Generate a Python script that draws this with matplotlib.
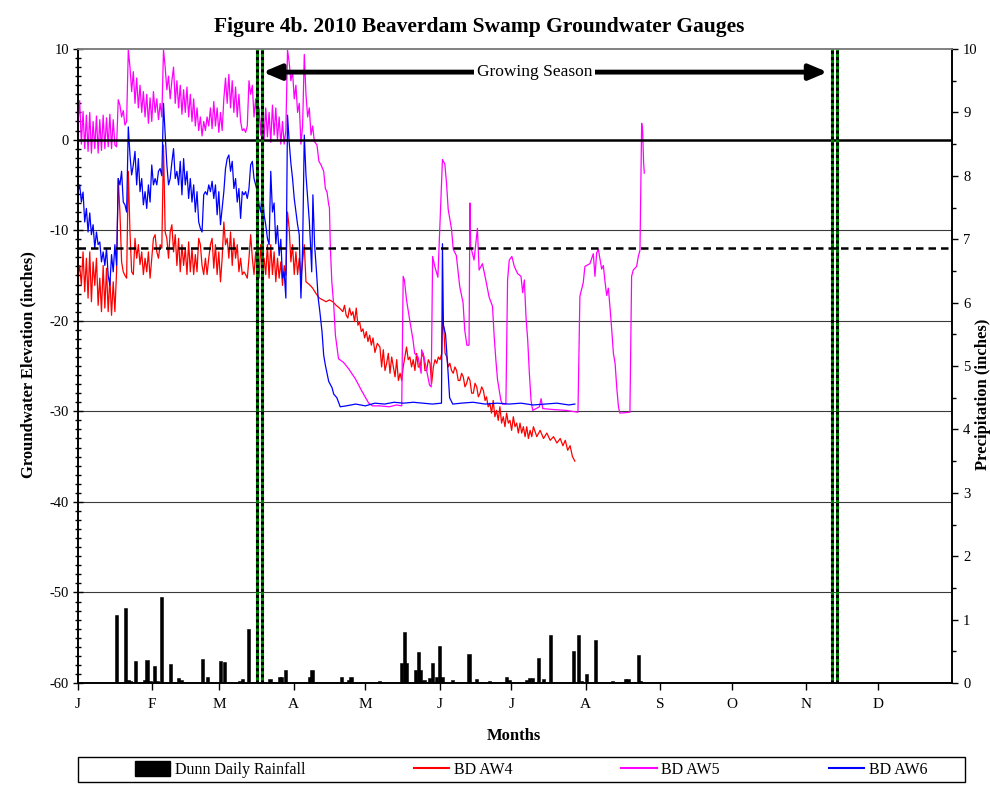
import numpy as np
import matplotlib
matplotlib.use('Agg')
import matplotlib.pyplot as plt
from matplotlib.ticker import MultipleLocator
from matplotlib.patches import Patch, Rectangle
from matplotlib.lines import Line2D

plt.rcParams['font.family'] = ['Liberation Serif', 'DejaVu Serif']
plt.rcParams['axes.unicode_minus'] = False

# ---- data (day of year 2010, inches) ----
month_starts = [0, 31, 59, 90, 120, 151, 181, 212, 243, 273, 304, 334]
month_labels = ['J', 'F', 'M', 'A', 'M', 'J', 'J', 'A', 'S', 'O', 'N', 'D']

# noisy winter/spring readings, sampled every 0.7 day from Jan 1
early_days = np.round(np.arange(0, 95, 0.7), 1)

aw4_early = [-15.0, -13.9, -16.1, -12.4, -16.8, -13.1, -17.5, -12.4, -17.9, -13.5,
             -16.1, -13.1, -18.3, -15.3, -19.0, -13.9, -18.6, -14.2, -19.0, -15.3,
             -19.4, -15.7, -19.0, -14.6, -4.3, -8.0, -13.5, -14.6, -15.0, -15.3,
             -3.5, -10.2, -14.6, -14.9, -10.9, -13.1, -11.6, -13.8, -12.4, -14.9,
             -13.1, -14.6, -12.4, -15.3, -13.1, -10.9, -10.5, -12.4, -13.1, -11.6,
             -12.0, -0.6, -10.2, -10.9, -13.1, -10.2, -9.4, -12.4, -10.5, -13.9,
             -10.9, -14.6, -11.6, -13.9, -12.0, -14.9, -11.3, -14.6, -12.0, -14.9,
             -12.7, -14.6, -10.9, -11.6, -13.9, -14.9, -13.1, -14.9, -13.1, -11.6,
             -10.9, -14.2, -11.6, -14.9, -12.4, -15.7, -13.1, -9.1, -11.6, -10.9,
             -13.1, -10.2, -13.9, -10.9, -13.1, -11.6, -14.6, -13.1, -14.9, -14.6,
             -14.9, -15.3, -13.1, -10.5, -13.1, -14.9, -12.4, -14.9, -15.3, -11.6,
             -14.6, -13.1, -14.9, -11.6, -15.3, -11.6, -14.9, -12.4, -15.7, -13.1,
             -15.3, -13.5, -16.1, -13.9, -15.0, -8.0, -9.8, -13.5, -11.6, -14.9,
             -12.4, -14.9, -13.1, -15.3, -13.5, -11.6]

aw5_early = [1.9, 4.3, -0.5, 3.1, -1.0, 2.7, -1.3, 3.0, -1.5, 2.0,
             -1.0, 2.6, -1.5, 2.2, -1.2, 2.7, -1.0, 2.4, -0.8, 2.8,
             -1.0, 2.2, -0.6, -0.8, 4.4, 3.8, 2.5, 3.2, 1.6, 2.0,
             9.9, 8.0, 5.3, 7.5, 4.0, 6.8, 3.5, 6.0, 3.0, 5.3,
             2.5, 5.0, 1.8, 4.6, 2.0, 5.3, 3.0, 4.5, 2.2, 4.0,
             2.5, 9.9, 8.0, 5.5, 7.0, 4.5, 6.5, 8.0, 4.0, 6.5,
             3.5, 6.0, 2.8, 5.5, 3.0, 5.8, 2.5, 5.0, 2.0, 4.5,
             1.5, 3.5, 1.0, 2.5, 0.4, 2.0, 1.0, 2.5, 1.5, 3.5,
             1.2, 4.2, 1.5, 3.5, 0.8, 3.0, 1.0, 4.5, 6.8, 4.0,
             7.2, 3.5, 6.5, 3.0, 5.8, 2.5, 5.0, 2.0, 1.0, 1.2,
             0.8, 1.5, 6.5, 5.0, 6.0, 2.5, 4.5, 1.5, 3.5, 0.5,
             4.0, 0.0, 3.5, 0.3, 3.0, -0.3, 3.8, 0.5, 3.5, 0.0,
             2.5, -0.5, 2.0, -0.5, 1.0, 9.9, 8.5, 6.5, 7.5, 4.5,
             6.0, 3.0, 4.0, -0.5, 1.5, 9.4]

aw6_early = [-5.75, -5.0, -6.9, -5.8, -9.1, -7.6, -10.2, -8.1, -10.5, -9.4,
             -12.0, -10.2, -11.6, -11.3, -13.5, -12.4, -13.9, -12.0, -15.0, -16.1,
             -12.7, -14.6, -11.6, -13.9, -4.3, -5.0, -3.5, -6.9, -7.2, -8.0,
             1.4, -1.7, -3.9, -2.8, -1.3, -5.0, -2.1, -5.75, -4.3, -7.2,
             -5.75, -7.6, -5.0, -6.9, -2.8, -5.0, -4.3, -5.0, -3.5, -3.2,
             -4.0, 4.0, 0.5, -2.8, -5.0, -4.3, -2.5, -1.0, -4.3, -3.5,
             -5.0, -2.4, -6.1, -2.1, -5.0, -3.5, -6.5, -4.3, -6.9, -5.0,
             -8.0, -5.75, -9.1, -9.8, -10.2, -6.1, -5.75, -6.1, -5.0, -5.75,
             -4.6, -6.5, -5.0, -8.3, -5.75, -9.4, -7.6, -5.75, -3.2, -2.1,
             -1.7, -3.5, -2.4, -5.4, -4.3, -6.9, -5.4, -8.7, -5.75, -6.1,
             -5.75, -6.5, -5.4, -2.8, -2.4, -4.3, -5.0, -5.75, -7.2, -8.0,
             -5.4, -8.3, -9.4, -10.9, -11.6, -3.5, -8.0, -7.0, -11.5, -9.5,
             -12.8, -11.0, -15.3, -14.6, -17.5, 2.7, -0.3, -2.6, -4.3, -6.5,
             -8.0, -9.4, -10.5, -17.5, -12.0, 0.5]

# later readings (irregular spacing)
aw4_late_days = [95.2, 96.6, 98.0, 99.4, 100.8, 102.2, 103.6, 105.0, 106.4, 107.8,
                 109.2, 110.6, 111.3, 112.0, 112.7, 113.4, 114.1, 114.8, 115.5, 116.2,
                 116.9, 117.6, 118.3, 119.0, 119.7, 120.4, 121.1, 121.8, 122.5, 123.2,
                 124.0, 125.0, 126.1, 126.8, 127.5, 128.2, 128.9, 129.6, 130.3, 131.0,
                 131.7, 132.4, 133.1, 133.8, 134.5, 135.2, 135.8, 136.5, 137.2, 137.9,
                 138.6, 139.3, 140.0, 140.7, 141.4, 142.1, 142.8, 143.5, 144.2, 144.9,
                 145.6, 146.3, 147.0, 147.7, 148.4, 149.1, 149.8, 150.5, 151.2, 151.9,
                 152.3, 152.8, 153.3, 154.0, 154.6, 155.3, 156.0, 156.7, 157.4, 158.1,
                 158.8, 159.5, 160.2, 160.9, 161.6, 162.3, 163.0, 163.7, 164.4, 165.1,
                 165.8, 166.5, 167.2, 167.9, 168.6, 169.3, 170.0, 170.6, 171.3, 172.0,
                 172.7, 173.4, 174.1, 174.8, 175.5, 176.2, 176.9, 177.6, 178.3, 179.0,
                 179.7, 180.4, 181.1, 181.8, 182.5, 183.2, 183.9, 184.6, 185.3, 186.0,
                 186.7, 187.4, 188.1, 188.8, 189.5, 190.2, 191.6, 193.0, 194.4, 195.8,
                 197.2, 198.6, 200.0, 201.4, 202.5, 203.5, 204.5, 205.5, 206.5, 207.5]
aw4_late = [-15.7, -16.0, -16.4, -17.0, -17.5, -17.7, -17.9, -17.7, -17.9, -18.3,
            -18.6, -19.0, -18.3, -19.4, -19.7, -18.6, -19.4, -19.0, -20.1, -18.6,
            -20.5, -20.1, -21.2, -20.9, -21.9, -21.2, -22.3, -21.6, -22.7, -21.9,
            -23.5, -22.5, -22.9, -25.1, -23.2, -25.5, -24.7, -23.6, -25.8, -24.0,
            -25.1, -26.2, -24.3, -26.6, -25.8, -26.6, -25.1, -24.0, -22.9, -24.3,
            -24.0, -25.1, -24.3, -25.5, -23.6, -25.1, -25.1, -24.0, -23.6, -25.5,
            -25.5, -24.3, -24.7, -26.9, -25.1, -24.3, -24.7, -24.0, -24.3, -23.6,
            -19.6, -21.0, -23.6, -24.0, -25.1, -24.7, -25.5, -25.8, -25.1, -25.5,
            -26.6, -26.6, -25.8, -26.2, -27.3, -26.9, -26.2, -26.6, -28.0, -28.0,
            -26.9, -27.3, -28.4, -28.0, -27.3, -27.7, -28.8, -28.4, -29.5, -29.1,
            -30.2, -28.8, -30.6, -29.9, -31.0, -29.5, -31.3, -30.6, -31.7, -30.2,
            -31.3, -31.0, -32.1, -30.6, -31.7, -31.3, -32.4, -31.3, -32.4, -31.7,
            -32.8, -31.7, -33.0, -32.1, -32.8, -31.7, -32.8, -32.1, -33.0, -32.4,
            -33.2, -32.8, -33.5, -33.0, -33.8, -33.2, -34.3, -33.8, -35.0, -35.5]

aw5_late_days = [95.2, 95.9, 96.6, 97.3, 98.0, 98.7, 99.8, 100.6, 101.5, 102.6,
                 103.3, 104.0, 104.7, 105.0, 105.4, 106.0, 106.8, 107.5, 108.8, 110.9,
                 113.0, 115.8, 118.6, 121.4, 123.0, 126.0, 130.0, 133.0, 135.2, 135.8,
                 136.3, 137.2, 138.5, 139.9, 140.6, 142.0, 143.3, 143.5, 144.5, 146.8,
                 147.5, 148.1, 149.0, 150.3, 151.1, 152.2, 153.2, 153.9, 154.6, 156.0,
                 156.7, 158.0, 159.4, 160.8, 161.5, 162.4, 163.3, 163.7, 164.0, 165.4,
                 166.8, 167.5, 168.9, 170.3, 171.7, 173.1, 173.8, 174.5, 175.2, 176.6,
                 177.3, 178.7, 179.4, 180.1, 181.2, 182.2, 183.6, 185.0, 185.7, 186.4,
                 187.1, 187.8, 188.5, 189.2, 189.9, 192.7, 193.4, 194.1, 198.3, 203.9,
                 208.8, 209.6, 211.0, 211.7, 213.8, 215.2, 215.9, 216.6, 217.3, 218.0,
                 218.7, 219.4, 220.1, 220.8, 221.5, 222.2, 222.9, 223.6, 224.3, 225.0,
                 225.7, 226.3, 230.5, 231.2, 231.9, 233.3, 234.0, 234.7, 235.4, 235.8,
                 236.2, 236.5]
aw5_late = [5.0, 2.5, 3.5, 0.5, 1.5, -0.2, -0.6, -2.4, -2.8, -3.5,
            -5.4, -5.8, -7.2, -7.5, -12.0, -15.7, -18.3, -21.6, -24.2, -24.6,
            -25.3, -26.4, -27.8, -29.1, -29.4, -29.4, -29.5, -29.3, -29.4, -15.1,
            -15.5, -17.7, -19.9, -22.1, -23.6, -24.0, -25.8, -23.2, -24.0, -27.1,
            -27.3, -12.9, -14.0, -15.2, -9.8, -2.2, -2.7, -4.8, -7.7, -9.9,
            -12.1, -12.8, -16.2, -18.0, -21.0, -22.7, -22.7, -7.0, -11.8, -13.3,
            -9.8, -14.4, -13.7, -15.5, -17.4, -18.4, -21.7, -24.3, -26.5, -28.8,
            -29.2, -29.2, -15.5, -13.3, -12.9, -14.0, -14.8, -15.1, -16.9, -15.5,
            -19.6, -22.1, -25.8, -28.8, -29.9, -29.5, -28.6, -29.7, -29.8, -29.9,
            -30.1, -17.3, -15.8, -14.0, -13.7, -12.6, -15.1, -12.5, -12.1, -13.2,
            -14.3, -13.9, -15.7, -17.2, -16.4, -18.6, -21.0, -23.6, -24.7, -27.4,
            -29.5, -30.2, -30.1, -15.1, -14.4, -14.0, -12.9, -12.2, 1.8, 1.0,
            -2.5, -3.7]

aw6_late_days = [95.2, 95.9, 96.6, 97.1, 97.6, 98.1, 98.8, 99.6, 100.3, 101.0,
                 101.9, 102.6, 103.3, 104.7, 106.1, 106.8, 108.1, 109.5, 112.0, 116.0,
                 120.0, 124.0, 128.0, 132.0, 136.0, 140.0, 144.0, 148.0, 151.8, 152.2,
                 152.6, 153.5, 154.5, 155.2, 156.5, 160.0, 165.0, 170.0, 175.0, 180.0,
                 185.0, 190.0, 195.0, 200.0, 205.0, 207.5]
aw6_late = [-3.9, -6.5, -9.0, -11.6, -14.6, -6.1, -11.6, -14.6, -17.5, -19.0,
            -21.2, -23.8, -24.9, -26.7, -27.4, -28.1, -28.5, -29.5, -29.4, -29.2,
            -29.4, -29.1, -29.2, -29.0, -29.1, -29.0, -29.1, -29.2, -29.1, -11.5,
            -20.5, -21.5, -25.5, -28.5, -29.2, -29.1, -29.0, -29.2, -29.1, -29.2,
            -29.1, -29.3, -29.2, -29.1, -29.3, -29.2]

rain_days = [16.1, 20.0, 20.9, 21.7, 24.0, 27.7, 28.8, 30.2, 31.9, 33.0,
             34.8, 38.7, 41.8, 43.1, 52.0, 54.1, 59.6, 61.0, 67.6, 68.8,
             71.3, 80.2, 84.0, 85.0, 86.8, 96.6, 97.7, 110.0, 112.9, 114.0,
             125.8, 135.1, 136.3, 137.2, 141.0, 142.1, 143.2, 144.5, 146.7, 148.0,
             149.8, 151.0, 152.0, 156.3, 163.3, 166.3, 172.0, 179.0, 180.0, 187.3,
             188.7, 189.7, 192.2, 194.3, 197.2, 207.0, 209.0, 210.3, 212.4, 216.3,
             223.3, 228.8, 229.7, 234.0, 235.0]
rain_in = [1.08, 1.18, 0.05, 0.03, 0.35, 0.05, 0.36, 0.04, 0.27, 0.03,
           1.36, 0.30, 0.08, 0.05, 0.38, 0.10, 0.35, 0.33, 0.03, 0.07,
           0.85, 0.07, 0.10, 0.10, 0.20, 0.10, 0.20, 0.10, 0.05, 0.10,
           0.04, 0.31, 0.81, 0.31, 0.20, 0.49, 0.20, 0.05, 0.08, 0.31,
           0.10, 0.58, 0.10, 0.05, 0.46, 0.07, 0.03, 0.10, 0.05, 0.05,
           0.08, 0.08, 0.39, 0.07, 0.75, 0.51, 0.75, 0.04, 0.14, 0.68,
           0.04, 0.06, 0.06, 0.44, 0.03]

season_lines = [74.9, 77.0, 315.0, 317.0]
season_arrow = (77.2, 313.0)
season_label_day = 190.8
ref_level = 0
wetland_level = -12

# ---- figure ----
fig = plt.figure(figsize=(9.9, 7.88), dpi=100)
ax = fig.add_axes([0.0788, 0.1332, 0.8828, 0.8046])
ax2 = ax.twinx()

for y in [-10, -20, -30, -40, -50]:
    ax.axhline(y, color='#3a3a3a', lw=0.8, zorder=1)
ax.axhline(ref_level, color='black', lw=1.8, zorder=4)
ax.axhline(wetland_level, color='black', lw=1.8, ls=(0, (3, 2)), zorder=4)

ax.plot(list(early_days) + aw4_late_days, aw4_early + aw4_late, color='#ff0000', lw=0.9, zorder=3)
ax.plot(list(early_days) + aw5_late_days, aw5_early + aw5_late, color='#ff00ff', lw=0.9, zorder=3)
ax.plot(list(early_days) + aw6_late_days, aw6_early + aw6_late, color='#0000ff', lw=0.9, zorder=3)

for d in season_lines:
    ax.axvline(d, color='#008000', lw=2.2, zorder=5)
    ax.axvline(d, color='black', lw=2.2, ls=(0, (1, 1)), zorder=6)

ax.annotate('', xy=(season_arrow[0], 7.45), xytext=(season_arrow[1], 7.45),
            arrowprops=dict(arrowstyle='<|-|>,head_length=0.9,head_width=0.38',
                            mutation_scale=12, lw=3.5, color='black',
                            shrinkA=0, shrinkB=0), zorder=7)
ax.text(season_label_day, 7.45, 'Growing Season', ha='center', va='center',
        fontsize=12.5, zorder=8,
        bbox=dict(facecolor='white', edgecolor='none', pad=2))

ax2.bar(rain_days, rain_in, width=1.3, color='black', edgecolor='black', lw=0.4, zorder=3)

ax.set_xlim(0, 365)
ax.set_ylim(-60, 10)
ax2.set_ylim(0, 10)
ax.set_xticks(month_starts)
ax.set_xticklabels(month_labels)
ax.yaxis.set_major_locator(MultipleLocator(10))
ax.yaxis.set_minor_locator(MultipleLocator(1))
ax2.yaxis.set_major_locator(MultipleLocator(1))
ax2.yaxis.set_minor_locator(MultipleLocator(0.5))

ax.tick_params(axis='y', which='major', direction='inout', length=7, width=1, labelsize=10.5, pad=3)
ax.tick_params(axis='y', which='minor', direction='inout', length=5, width=1)
ax.tick_params(axis='x', which='major', direction='out', length=5, width=1, labelsize=11, pad=6)
ax2.tick_params(axis='y', which='major', direction='out', length=4, width=1, labelsize=10.5, pad=4)
ax2.tick_params(axis='y', which='minor', direction='out', length=3, width=1)

for a in (ax, ax2):
    a.spines['top'].set_color('#808080')
    a.spines['top'].set_linewidth(1.2)
    for s in ('left', 'right', 'bottom'):
        a.spines[s].set_linewidth(1.2)

fig.text(0.484, 0.966, 'Figure 4b. 2010 Beaverdam Swamp Groundwater Gauges',
         ha='center', va='center', fontsize=15.5, fontweight='bold')
fig.text(0.519, 0.066, 'Months', ha='center', va='center', fontsize=12, fontweight='bold')
fig.text(0.029, 0.537, 'Groundwater Elevation (inches)', ha='center', va='center',
         rotation=90, fontsize=12, fontweight='bold')
fig.text(0.993, 0.500, 'Precipitation (inches)', ha='center', va='center',
         rotation=90, fontsize=12, fontweight='bold')

# legend box across the bottom
fig.patches.append(Rectangle((0.0788, 0.0076), 0.896, 0.0317, transform=fig.transFigure,
                             facecolor='white', edgecolor='black', lw=1.0))
handles = [Patch(facecolor='black', edgecolor='black'),
           Line2D([], [], color='#ff0000', lw=1.5),
           Line2D([], [], color='#ff00ff', lw=1.5),
           Line2D([], [], color='#0000ff', lw=1.5)]
labels = ['Dunn Daily Rainfall', 'BD AW4', 'BD AW5', 'BD AW6']
fig.legend(handles, labels, loc='center', ncol=4, bbox_to_anchor=(0.5365, 0.0234),
           fontsize=11.5, frameon=False, handlelength=2.2, handleheight=1.0,
           handletextpad=0.3, columnspacing=6.8, borderpad=0)

fig.savefig('out.png', dpi=100)
